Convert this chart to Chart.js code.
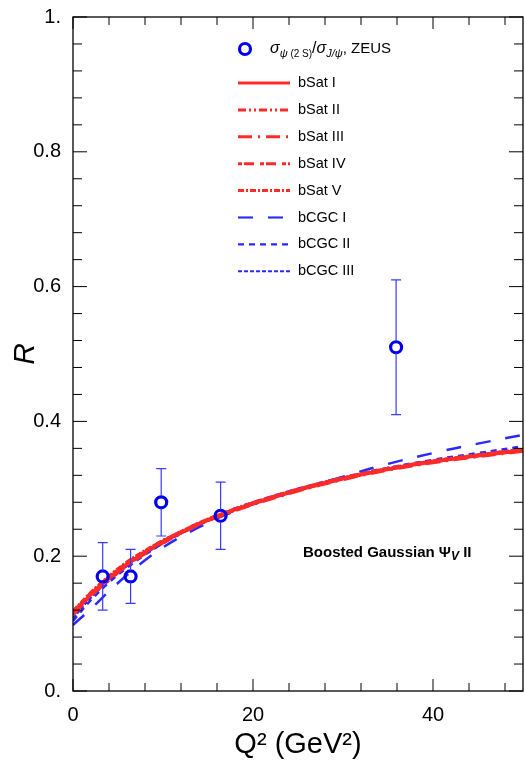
<!DOCTYPE html>
<html><head><meta charset="utf-8">
<script src="https://cdn.jsdelivr.net/npm/chart.js@4.4.1/dist/chart.umd.min.js"></script>
<style>html,body{margin:0;padding:0;background:#fff;overflow:hidden}#w{width:525px;height:764px}canvas{display:block}</style>
</head><body><div id="w"><canvas id="c" width="525" height="764" style="width:525px;height:764px"></canvas></div>
<script>
// ---- data ----
const q2Grid = [0, 2, 4, 6, 8, 10, 12, 14, 16, 18, 20, 25, 30, 35, 40, 45, 50];
const bSatI   = [0.115,0.143,0.167,0.188,0.206,0.222,0.235,0.248,0.259,0.269,0.278,0.298,0.315,0.329,0.340,0.349,0.357];
const bSatII  = [0.117,0.145,0.169,0.190,0.207,0.223,0.236,0.249,0.260,0.270,0.279,0.299,0.316,0.330,0.341,0.350,0.358];
const bSatIII = [0.113,0.141,0.165,0.186,0.204,0.220,0.234,0.247,0.258,0.268,0.277,0.297,0.314,0.328,0.339,0.348,0.356];
const bSatIV  = [0.116,0.144,0.168,0.189,0.206,0.222,0.235,0.248,0.259,0.269,0.278,0.298,0.315,0.329,0.340,0.349,0.357];
const bSatV   = [0.118,0.146,0.170,0.191,0.208,0.223,0.236,0.249,0.260,0.270,0.279,0.299,0.316,0.330,0.341,0.350,0.358];
const bCGCI   = [0.098,0.122,0.148,0.172,0.194,0.213,0.229,0.243,0.256,0.267,0.277,0.298,0.318,0.337,0.353,0.367,0.380];
const bCGCII  = [0.104,0.135,0.161,0.183,0.202,0.219,0.234,0.247,0.259,0.270,0.280,0.300,0.317,0.331,0.343,0.353,0.363];
const bCGCIII = [0.108,0.139,0.164,0.186,0.204,0.220,0.234,0.247,0.258,0.268,0.278,0.298,0.315,0.329,0.340,0.350,0.359];
const zeusQ2  = [3.3, 6.4, 9.8, 16.4, 35.9];
const zeusR   = [0.17, 0.17, 0.28, 0.26, 0.51];
const zeusErr = [0.05, 0.04, 0.05, 0.05, 0.10];
const yTickLabels = {0:'0.', 0.2:'0.2', 0.4:'0.4', 0.6:'0.6', 0.8:'0.8', 1:'1.'};
const xTickLabels = {0:'0', 20:'20', 40:'40'};

const RED = '#ff2a2a', BLUE = '#2a2aff';
const FONT = '"Liberation Sans", Arial, sans-serif';
const pts = a => q2Grid.map((x,i)=>({x, y:a[i]}));
function curve(label, arr, color, dash, w){
  return {label, data: pts(arr), borderColor: color, backgroundColor: color, borderDash: dash,
    borderWidth: w, pointRadius: 0, tension: 0.4, fill:false, order: 2};
}
const datasets = [
  {label:'zeus', data: zeusQ2.map((x,i)=>({x,y:zeusR[i]})), showLine:false, pointRadius:5.5,
   pointBorderWidth:3.2, pointBorderColor:'#0000ee', pointBackgroundColor:'rgba(0,0,0,0)', borderColor:'#0000ee', order:0},
  curve('bSat I', bSatI, RED, [], 3.5),
  curve('bSat II', bSatII, RED, [8,3,2,3,2,3], 3.5),
  curve('bSat III', bSatIII, RED, [14,6,2,6], 3.5),
  curve('bSat IV', bSatIV, RED, [4,2,10,6], 3.5),
  curve('bSat V', bSatV, RED, [6,2,2,2], 3.5),
  curve('bCGC I', bCGCI, BLUE, [15,15], 2.5),
  curve('bCGC II', bCGCII, BLUE, [6,5], 2.5),
  curve('bCGC III', bCGCIII, BLUE, [4,2], 2.5),
];

const framePlugin = {
  id:'frame',
  afterDatasetsDraw(chart){
    const {ctx, chartArea:a, scales:{x,y}} = chart;
    ctx.save();
    // error bars
    ctx.strokeStyle = '#3a3aff'; ctx.lineWidth = 1.2;
    zeusQ2.forEach((q,i)=>{
      const px = x.getPixelForValue(q);
      const yl = y.getPixelForValue(zeusR[i]-zeusErr[i]), yh = y.getPixelForValue(zeusR[i]+zeusErr[i]);
      const yc = y.getPixelForValue(zeusR[i]);
      ctx.beginPath();
      ctx.moveTo(px, yh); ctx.lineTo(px, yc-6); ctx.moveTo(px, yc+6); ctx.lineTo(px, yl);
      ctx.moveTo(px-5, yh); ctx.lineTo(px+5, yh); ctx.moveTo(px-5, yl); ctx.lineTo(px+5, yl);
      ctx.stroke();
    });
    // frame
    ctx.strokeStyle = '#000'; ctx.lineWidth = 1.3;
    ctx.strokeRect(a.left, a.top, a.right-a.left, a.bottom-a.top);
    // ticks
    ctx.lineWidth = 1;
    for (let v=0; v<=50.001; v+=4){
      const px = x.getPixelForValue(v);
      const major = Math.abs(v%20)<1e-6;
      const L = major?12:8;
      ctx.beginPath(); ctx.moveTo(px,a.bottom); ctx.lineTo(px,a.bottom-L);
      ctx.moveTo(px,a.top); ctx.lineTo(px,a.top+L); ctx.stroke();
    }
    for (let k=0; k<=25; k++){
      const v = k*0.04; const py = y.getPixelForValue(v);
      const major = k%5===0; const L = major?14:9;
      ctx.beginPath(); ctx.moveTo(a.left,py); ctx.lineTo(a.left+L,py);
      ctx.moveTo(a.right,py); ctx.lineTo(a.right-L,py); ctx.stroke();
    }
    // legend
    const lx0 = 238, lx1 = 290, tx = 298;
    ctx.textBaseline = 'middle'; ctx.fillStyle = '#000';
    ctx.beginPath(); ctx.arc(245, 49, 5.5, 0, Math.PI*2);
    ctx.lineWidth = 3.2; ctx.strokeStyle = '#0000ee'; ctx.stroke();
    let cx = 270;
    const drawT = (t, font, dy=0) => { ctx.font = font; ctx.fillText(t, cx, 49+dy); cx += ctx.measureText(t).width; };
    drawT('σ', 'italic 16px '+FONT);
    drawT('ψ', 'italic 11px '+FONT, 5);
    drawT(' (2 S)', '10px '+FONT, 5);
    drawT('/', '16px '+FONT);
    drawT('σ', 'italic 16px '+FONT);
    drawT('J/ψ', 'italic 11px '+FONT, 5);
    drawT(', ZEUS', '15px '+FONT);
    chart.data.datasets.slice(1).forEach((ds,i)=>{
      const ly = 83 + i*26.9;
      ctx.beginPath(); ctx.setLineDash(ds.borderDash); ctx.strokeStyle = ds.borderColor;
      ctx.lineWidth = ds.borderWidth*0.85; ctx.moveTo(lx0, ly); ctx.lineTo(lx1, ly); ctx.stroke();
      ctx.setLineDash([]);
      ctx.font = '14.5px '+FONT; ctx.fillStyle='#000';
      ctx.fillText(ds.label, tx, ly);
    });
    // annotation
    ctx.font = 'bold 15px '+FONT;
    ctx.fillText('Boosted Gaussian Ψ', 303, 553);
    let w = ctx.measureText('Boosted Gaussian Ψ').width;
    ctx.font = 'bold italic 12px '+FONT;
    ctx.fillText('V', 303+w, 557);
    let w2 = ctx.measureText('V').width;
    ctx.font = 'bold 15px '+FONT;
    ctx.fillText(' II', 303+w+w2, 553);
    ctx.restore();
  }
};

new Chart(document.getElementById('c'), {
  type:'line',
  data:{datasets},
  options:{
    responsive:false, animation:false,
    layout:{autoPadding:false, padding:{top:17, right:2, left:0, bottom:0}},
    plugins:{legend:{display:false}, tooltip:{enabled:false}},
    scales:{
      x:{type:'linear', min:0, max:50, border:{display:false}, grid:{display:false},
         afterBuildTicks(s){ s.ticks = Object.keys(xTickLabels).map(v=>({value:+v})); },
         ticks:{autoSkip:false, maxRotation:0, padding:4, color:'#000', font:{size:20, family:FONT},
                callback:v=>xTickLabels[v] ?? ''},
         title:{display:true, text:'Q² (GeV²)', color:'#000', padding:{top:-2,bottom:2}, font:{size:29, family:FONT}},
         afterFit(s){ s.height = 73; s.paddingLeft = 0; s.paddingRight = 0; }},
      y:{type:'linear', min:0, max:1, border:{display:false}, grid:{display:false},
         afterBuildTicks(s){ s.ticks = Object.keys(yTickLabels).map(v=>({value:+v})); },
         ticks:{autoSkip:false, padding:4, color:'#000', font:{size:20, family:FONT},
                callback:v=>yTickLabels[+v.toFixed(1)] ?? ''},
         title:{display:true, text:'R', color:'#000', padding:{top:8,bottom:0}, font:{size:30, style:'italic', family:FONT}},
         afterFit(s){ s.width = 73; s.paddingTop = 0; s.paddingBottom = 0; }}
    }
  },
  plugins:[framePlugin]
});
</script></body></html>
